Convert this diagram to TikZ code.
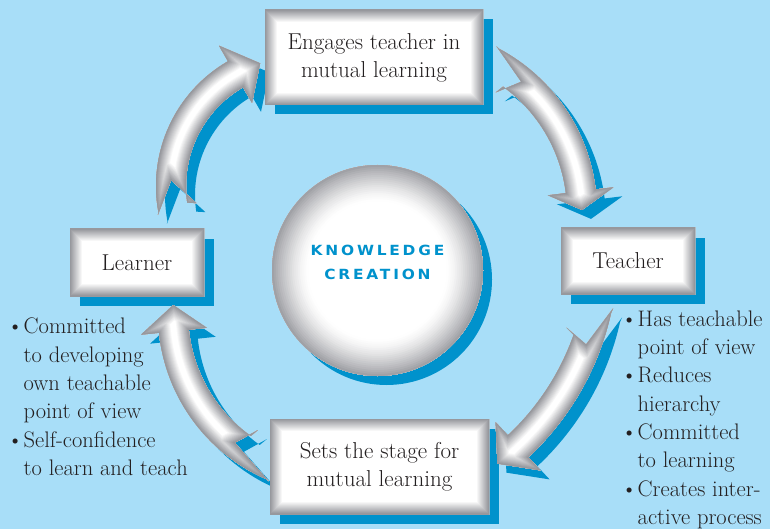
\documentclass[tikz,border=0pt]{standalone}
\usepackage{fontspec}
\usetikzlibrary{backgrounds}
\newfontfamily\hubfont[LetterSpace=20,FakeStretch=1.1]{DejaVu Sans}

\definecolor{sky}{RGB}{168,222,248}
\definecolor{deepsky}{RGB}{0,146,204}
\definecolor{rim}{RGB}{150,151,156}
\definecolor{ink}{RGB}{35,31,32}

\newcommand\bul{\makebox[16.5pt][l]{\textbullet}}
\newcommand\nobul{\makebox[16.5pt]{}}

% curved arrow: centre, radius, tail (outer), tail (inner), notch, head base, tip
\newcommand\swoosh[7]{%
  \pgfmathsetmacro\ra{#2+16}\pgfmathsetmacro\rb{#2+15}\pgfmathsetmacro\rc{#2+33}%
  \pgfmathsetmacro\rd{#2-33}\pgfmathsetmacro\re{#2-15}\pgfmathsetmacro\rf{#2-24}%
  \pgfmathsetmacro\ta{#3+1}\pgfmathsetmacro\tb{#4+1}%
  \def\swooshpath{(#3:\ra) -- (\ta:\rb) arc[start angle=\ta,end angle=#6,radius=\rb]
    -- (#6:\rc) -- (#7:#2) -- (#6:\rd) -- (#6:\re)
    arc[start angle=#6,end angle=\tb,radius=\re] -- (#4:\rf) -- (#5:#2) -- cycle}%
  \begin{scope}[shift={(#1)}]
    \fill[deepsky,shift={(9,9)}] \swooshpath;
    \begin{scope}
      \clip \swooshpath;
      \fill[white] \swooshpath;
      \foreach \k in {1,...,12} {
        \pgfmathsetmacro\lw{2*(13-\k)}
        \pgfmathtruncatemacro\pc{8.33*\k}
        \draw[line width=\lw pt,rim!\pc] \swooshpath;
      }
    \end{scope}
  \end{scope}}

\begin{document}
\begin{tikzpicture}[
  x=1pt,y=-1pt,
  panel/.style={fill=white,inner sep=0pt,outer sep=0pt,align=center,text=ink,
    font=\fontsize{23}{28}\selectfont,
    path picture={
      \foreach \k in {1,...,12} {
        \pgfmathsetmacro\lw{2*(13-\k)}
        \pgfmathtruncatemacro\pc{8.33*\k}
        \draw[line width=\lw pt,rim!\pc] (path picture bounding box.north west)
          rectangle (path picture bounding box.south east);
      }}},
  hub/.style={circle,fill=white,inner sep=0pt,outer sep=0pt,minimum size=211pt,
    path picture={
      \foreach \k in {1,...,18} {
        \pgfmathsetmacro\lw{4*(19-\k)}
        \pgfmathtruncatemacro\pc{90*(\k/18)^1.4}
        \draw[line width=\lw pt,rim!\pc] (path picture bounding box.center)
          circle[radius=105.5pt];
      }}},
  hubtext/.style={align=center,inner sep=0pt,text=deepsky,
    font=\hubfont\bfseries\fontsize{14}{24}\selectfont},
  list/.style={align=left,inner sep=0pt,anchor=north west,text=ink,
    font=\fontsize{22.5}{28.3}\selectfont},
]
\useasboundingbox (0,0) rectangle (770,529);

% the four curved arrows, clockwise from the learner
\swoosh{300,186}{129}{168.5}{170.6}{182.6}{240}{252}
\swoosh{412,212}{170}{-63}{-55}{-50}{-7}{-0.7}
\swoosh{336,251}{267}{11.7}{18.4}{20.5}{47}{52.8}
\swoosh{338,314}{165}{112.5}{124.6}{128.7}{174}{183.1}

% boxes and centre disc
\node[panel,minimum width=218pt,minimum height=95pt] (engage) at (374,57.5)
  {Engages teacher in\\mutual learning};
\node[panel,minimum width=134pt,minimum height=66pt] (teacher) at (628,261) {Teacher};
\node[panel,minimum width=219pt,minimum height=95pt] (stage) at (379.5,466.5)
  {Sets the stage for\\mutual learning};
\node[panel,minimum width=134pt,minimum height=67pt] (learner) at (137,262.5) {Learner};
\node[hub] (hub) at (377.5,270.5) {};
\node[hubtext] (hubtitle) at ([yshift=8pt]hub.center) {KNOWLEDGE\\CREATION};

% bullet notes
\node[list] (teachnotes) at (621,310.5) {\bul Has teachable\\\nobul point of view\\
  \bul Reduces\\\nobul hierarchy\\\bul Committed\\\nobul to learning\\
  \bul Creates inter-\\\nobul active process};
\node[list] (learnnotes) at (7,318) {\bul Committed\\\nobul to developing\\
  \nobul own teachable\\\nobul point of view\\\bul Self-confidence\\
  \nobul to learn and teach};

% backdrop and shadows
\begin{scope}[on background layer]
  \fill[sky] (0,0) rectangle (770,529);
  \foreach \n in {engage,teacher,stage,learner}
    \fill[deepsky] ([shift={(9.5,9.5)}]\n.north west) rectangle ([shift={(9.5,9.5)}]\n.south east);
  \fill[deepsky] ([shift={(9,9)}]hub.center) circle[radius=105.5pt];
\end{scope}
\end{tikzpicture}
\end{document}
